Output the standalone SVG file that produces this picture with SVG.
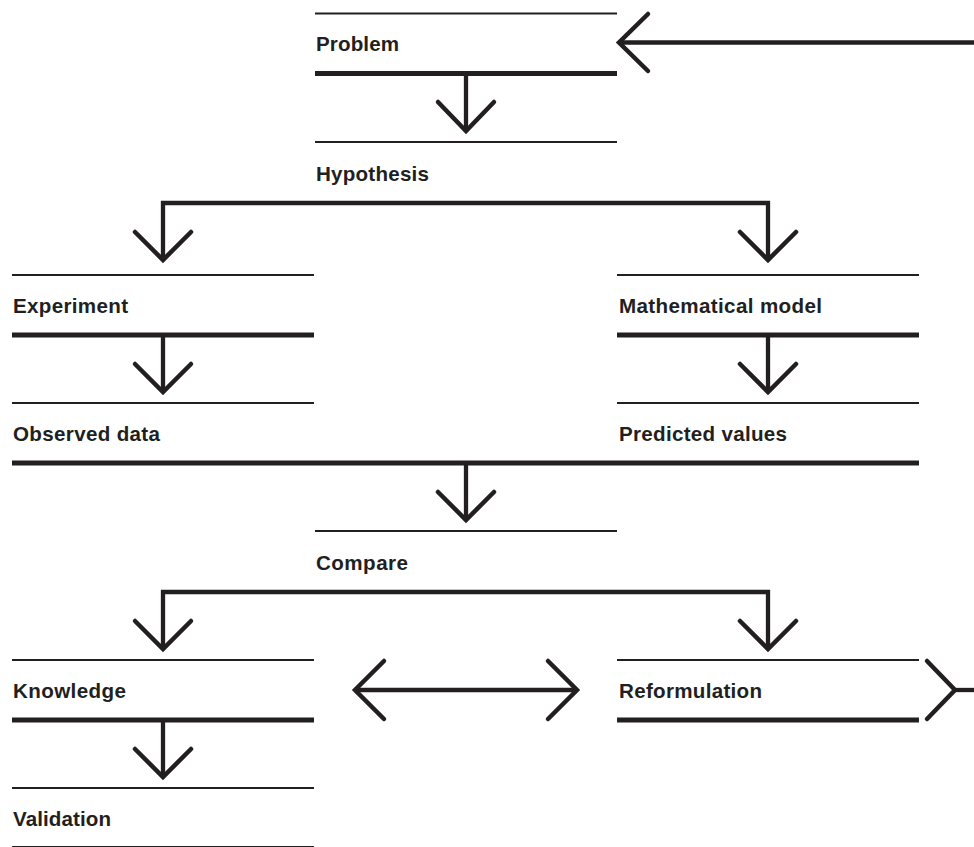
<svg xmlns="http://www.w3.org/2000/svg" width="974" height="847" viewBox="0 0 974 847">
<style>
  .thin{stroke:#231f20;stroke-width:2;fill:none}
  .thick{stroke:#231f20;stroke-width:5;fill:none}
  .conn{stroke:#231f20;stroke-width:4.3;fill:none}
  .head{stroke:#231f20;stroke-width:4.5;fill:none;stroke-linecap:round;stroke-linejoin:miter}
  .lbl{font-family:"Liberation Sans",Arial,Helvetica,sans-serif;font-weight:bold;font-size:20.6px;fill:#231f20}
</style>
<rect x="0" y="0" width="974" height="847" fill="#ffffff"/>

<g id="node-problem">
  <line class="thin" x1="315" y1="13.5" x2="617" y2="13.5"/>
  <text class="lbl" x="316" y="51" textLength="83" lengthAdjust="spacing">Problem</text>
  <line class="thick" x1="315" y1="73.5" x2="617" y2="73.5"/>
</g>
<g id="node-hypothesis">
  <line class="thin" x1="315" y1="142" x2="617" y2="142"/>
  <text class="lbl" x="316" y="181" textLength="113" lengthAdjust="spacing">Hypothesis</text>
</g>
<g id="node-experiment">
  <line class="thin" x1="12" y1="275" x2="314" y2="275"/>
  <text class="lbl" x="13" y="313" textLength="115" lengthAdjust="spacing">Experiment</text>
  <line class="thick" x1="12" y1="335" x2="314" y2="335"/>
</g>
<g id="node-model">
  <line class="thin" x1="617" y1="275" x2="919" y2="275"/>
  <text class="lbl" x="619" y="313" textLength="203" lengthAdjust="spacing">Mathematical model</text>
  <line class="thick" x1="617" y1="335" x2="919" y2="335"/>
</g>
<g id="node-observed">
  <line class="thin" x1="12" y1="403" x2="314" y2="403"/>
  <text class="lbl" x="13" y="441" textLength="147" lengthAdjust="spacing">Observed data</text>
</g>
<g id="node-predicted">
  <line class="thin" x1="617" y1="403" x2="919" y2="403"/>
  <text class="lbl" x="619" y="441" textLength="168" lengthAdjust="spacing">Predicted values</text>
</g>
<g id="node-compare">
  <line class="thin" x1="315" y1="531" x2="617" y2="531"/>
  <text class="lbl" x="316" y="570" textLength="92" lengthAdjust="spacing">Compare</text>
</g>
<g id="node-knowledge">
  <line class="thin" x1="12" y1="660" x2="314" y2="660"/>
  <text class="lbl" x="13" y="698" textLength="113" lengthAdjust="spacing">Knowledge</text>
  <line class="thick" x1="12" y1="720" x2="314" y2="720"/>
</g>
<g id="node-reformulation">
  <line class="thin" x1="617" y1="660" x2="919" y2="660"/>
  <text class="lbl" x="619" y="698" textLength="143" lengthAdjust="spacing">Reformulation</text>
  <line class="thick" x1="617" y1="720" x2="919" y2="720"/>
</g>
<g id="node-validation">
  <line class="thin" x1="12" y1="788" x2="314" y2="788"/>
  <text class="lbl" x="13" y="826" textLength="98" lengthAdjust="spacing">Validation</text>
  <line class="thin" x1="12" y1="847" x2="314" y2="847"/>
</g>

<g id="connectors">
  <line class="conn" x1="621" y1="42.5" x2="974" y2="42.5"/>
  <polyline class="head" points="648,14 619,42.5 648,71"/>
  <line class="conn" x1="466" y1="74" x2="466" y2="129"/>
  <polyline class="head" points="438,102 466,131 494,102"/>
  <polyline class="conn" points="163,258 163,203 768,203 768,258"/>
  <polyline class="head" points="135,232 163,260 191,232"/>
  <polyline class="head" points="740,232 768,260 796,232"/>
  <line class="conn" x1="163" y1="335" x2="163" y2="390"/>
  <polyline class="head" points="135,364 163,392 191,364"/>
  <line class="conn" x1="768" y1="335" x2="768" y2="390"/>
  <polyline class="head" points="740,364 768,392 796,364"/>
  <line class="thick" x1="12" y1="463" x2="919" y2="463"/>
  <line class="conn" x1="466" y1="463" x2="466" y2="518"/>
  <polyline class="head" points="438,492 466,520 494,492"/>
  <polyline class="conn" points="163,647 163,592 768,592 768,647"/>
  <polyline class="head" points="135,621 163,649 191,621"/>
  <polyline class="head" points="740,621 768,649 796,621"/>
  <line class="conn" x1="163" y1="720" x2="163" y2="775"/>
  <polyline class="head" points="135,749 163,777 191,749"/>
  <line class="conn" x1="357" y1="690" x2="575" y2="690"/>
  <polyline class="head" points="384,661 355,690 384,719"/>
  <polyline class="head" points="548,661 577,690 548,719"/>
  <polyline class="head" points="927,661 955,690 927,719"/>
  <line class="conn" x1="953" y1="690" x2="974" y2="690"/>
</g>
</svg>
